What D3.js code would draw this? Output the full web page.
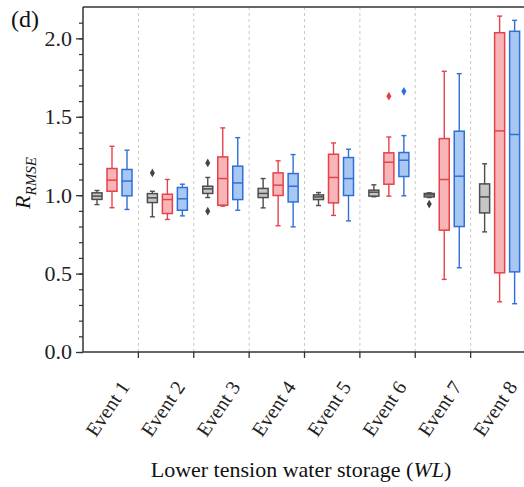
<!DOCTYPE html>
<html><head><meta charset="utf-8"><script src="https://cdn.jsdelivr.net/npm/d3@7"></script></head>
<body style="margin:0">
<div id="c"></div>
<script>
const events = ["Event 1", "Event 2", "Event 3", "Event 4", "Event 5", "Event 6", "Event 7", "Event 8"];
const series = ["gray", "red", "blue"];

// [lower whisker, q1, median, q3, upper whisker]
const grayStats = [
  [0.94, 0.973, 0.994, 1.015, 1.03],
  [0.862, 0.953, 0.983, 1.01, 1.025],
  [0.985, 1.011, 1.04, 1.057, 1.113],
  [0.919, 0.985, 1.011, 1.043, 1.106],
  [0.934, 0.972, 0.989, 1.002, 1.017],
  [0.99, 0.994, 1.019, 1.032, 1.066],
  [0.985, 0.989, 1.002, 1.011, 1.015],
  [0.766, 0.887, 0.989, 1.072, 1.2]
];
const redStats = [
  [0.92, 1.025, 1.096, 1.17, 1.312],
  [0.845, 0.883, 0.972, 1.006, 1.10],
  [0.93, 0.936, 1.106, 1.244, 1.429],
  [0.805, 0.998, 1.064, 1.142, 1.219],
  [0.871, 0.951, 1.113, 1.261, 1.333],
  [0.994, 1.07, 1.21, 1.27, 1.371],
  [0.463, 0.777, 1.10, 1.361, 1.79],
  [0.32, 0.505, 1.41, 2.036, 2.142]
];
const blueStats = [
  [0.909, 0.996, 1.09, 1.164, 1.287],
  [0.868, 0.904, 0.977, 1.049, 1.07],
  [0.904, 0.972, 1.078, 1.185, 1.367],
  [0.798, 0.957, 1.057, 1.138, 1.259],
  [0.836, 0.998, 1.106, 1.24, 1.293],
  [0.996, 1.119, 1.223, 1.272, 1.38],
  [0.537, 0.80, 1.121, 1.408, 1.775],
  [0.308, 0.511, 1.387, 2.045, 2.115]
];
const grayOutliers = [[], [1.142], [1.206, 0.898], [], [], [], [0.943], []];
const redOutliers = [[], [], [], [], [], [1.631], [], []];
const blueOutliers = [[], [], [], [], [], [1.662], [], []];

const yMajor = [0, 0.5, 1.0, 1.5, 2.0];
const yMinor = d3.range(0, 22).map(i => i / 10);

const styles = {
  gray: { stroke: "#4d4d4d", fill: "#c6c6c6", dot: "#444444" },
  red: { stroke: "#e5424b", fill: "#f8b5b7", dot: "#e83a45" },
  blue: { stroke: "#2f6fd8", fill: "#a8c7f2", dot: "#2a6ee3" }
};

const width = 524, height = 487;
const margin = { left: 83, top: 7, bottom: 352 };

const svg = d3.select("#c").append("svg")
  .attr("width", width)
  .attr("height", height);

const x = d3.scaleBand().domain(events).range([margin.left, margin.left + 443]).padding(0);
const xs = d3.scalePoint().domain(series).range([14, 44]);
const y = d3.scaleLinear().domain([0, 2.2]).range([margin.bottom, margin.top]);

// dashed separators
svg.append("g")
  .selectAll("line")
  .data(events.slice(0, 7))
  .join("line")
  .attr("x1", d => x(d) + x.bandwidth())
  .attr("x2", d => x(d) + x.bandwidth())
  .attr("y1", margin.top)
  .attr("y2", margin.bottom)
  .attr("stroke", "#c8c8c8")
  .attr("stroke-width", 1)
  .attr("stroke-dasharray", "3,3");

// boxes
const statsBy = { gray: grayStats, red: redStats, blue: blueStats };
const outBy = { gray: grayOutliers, red: redOutliers, blue: blueOutliers };
const boxW = 10, capW = 5;

series.forEach(s => {
  const st = styles[s];
  const g = svg.append("g");
  const rows = events.map((e, i) => ({ e, v: statsBy[s][i], out: outBy[s][i] }));
  const grp = g.selectAll("g").data(rows).join("g")
    .attr("transform", d => `translate(${x(d.e) + xs(s)},0)`);

  grp.append("line")
    .attr("x1", 0).attr("x2", 0)
    .attr("y1", d => y(d.v[0])).attr("y2", d => y(d.v[4]))
    .attr("stroke", st.stroke).attr("stroke-width", 1.4);
  grp.append("line")
    .attr("x1", -capW / 2).attr("x2", capW / 2)
    .attr("y1", d => y(d.v[0])).attr("y2", d => y(d.v[0]))
    .attr("stroke", st.stroke).attr("stroke-width", 1.4);
  grp.append("line")
    .attr("x1", -capW / 2).attr("x2", capW / 2)
    .attr("y1", d => y(d.v[4])).attr("y2", d => y(d.v[4]))
    .attr("stroke", st.stroke).attr("stroke-width", 1.4);
  grp.append("rect")
    .attr("x", -boxW / 2).attr("width", boxW)
    .attr("y", d => y(d.v[3]))
    .attr("height", d => y(d.v[1]) - y(d.v[3]))
    .attr("fill", st.fill)
    .attr("stroke", st.stroke).attr("stroke-width", 1.5);
  grp.append("line")
    .attr("x1", -boxW / 2).attr("x2", boxW / 2)
    .attr("y1", d => y(d.v[2])).attr("y2", d => y(d.v[2]))
    .attr("stroke", st.stroke).attr("stroke-width", 1.5);
  grp.selectAll("path").data(d => d.out).join("path")
    .attr("d", d3.symbol(d3.symbolDiamond, 22))
    .attr("transform", d => `translate(0,${y(d)})`)
    .attr("fill", st.dot);
});

// y axis ticks (minor + major)
const yAxisMinor = d3.axisLeft(y).tickValues(yMinor).tickSize(4).tickFormat("");
svg.append("g").attr("transform", `translate(${margin.left},0)`).call(yAxisMinor)
  .call(g => g.select(".domain").remove())
  .call(g => g.selectAll("line").attr("stroke", "#333").attr("stroke-width", 1.2));

const yAxis = d3.axisLeft(y).tickValues(yMajor).tickSize(7).tickFormat("");
svg.append("g").attr("transform", `translate(${margin.left},0)`).call(yAxis)
  .call(g => g.select(".domain").remove())
  .call(g => g.selectAll("line").attr("stroke", "#333").attr("stroke-width", 1.3));

svg.selectAll("text.ylab").data(yMajor).join("text")
  .attr("class", "ylab")
  .attr("x", margin.left - 11)
  .attr("y", d => y(d))
  .attr("dy", "0.34em")
  .attr("text-anchor", "end")
  .attr("font-size", 22)
  .attr("fill", "#222")
  .style("font-family", `"Liberation Serif"`)
  .text(d => d3.format(".1f")(d));

// x axis ticks at group boundaries
const xAxis = d3.axisBottom(x).tickSize(6).tickFormat("");
const xg = svg.append("g").attr("transform", `translate(0,${margin.bottom})`).call(xAxis);
xg.select(".domain").remove();
xg.selectAll(".tick").attr("transform", d => `translate(${x(d) + x.bandwidth()},0)`);
xg.selectAll("line").attr("stroke", "#333").attr("stroke-width", 1.3);

svg.selectAll("text.xlab").data(events).join("text")
  .attr("class", "xlab")
  .attr("transform", d => `translate(${x(d) + x.bandwidth() - 8},${margin.bottom + 35}) rotate(-56)`)
  .attr("text-anchor", "end")
  .attr("font-size", 20)
  .attr("fill", "#222")
  .style("font-family", `"Liberation Serif"`)
  .text(d => d);

// frame lines
svg.append("line")
  .attr("x1", margin.left).attr("x2", width)
  .attr("y1", margin.top).attr("y2", margin.top)
  .attr("stroke", "#333").attr("stroke-width", 1.5);
svg.append("line")
  .attr("x1", margin.left).attr("x2", width)
  .attr("y1", margin.bottom).attr("y2", margin.bottom)
  .attr("stroke", "#333").attr("stroke-width", 1.5);
svg.append("line")
  .attr("x1", margin.left).attr("x2", margin.left)
  .attr("y1", margin.top).attr("y2", margin.bottom)
  .attr("stroke", "#333").attr("stroke-width", 1.5);

// labels
svg.append("text")
  .attr("x", 11).attr("y", 27)
  .attr("font-size", 24).attr("fill", "#111")
  .style("font-family", `"Liberation Serif"`)
  .text("(d)");

const yl = svg.append("text")
  .attr("transform", "translate(30,183) rotate(-90)")
  .attr("text-anchor", "middle")
  .attr("font-size", 22).attr("fill", "#111")
  .style("font-family", `"Liberation Serif"`)
  .attr("font-style", "italic");
yl.append("tspan").text("R");
yl.append("tspan").attr("font-size", 15).attr("dy", 6).text("RMSE");

const xl = svg.append("text")
  .attr("x", 301).attr("y", 477)
  .attr("text-anchor", "middle")
  .attr("font-size", 22).attr("fill", "#111")
  .style("font-family", `"Liberation Serif"`);
xl.append("tspan").text("Lower tension water storage (");
xl.append("tspan").attr("font-style", "italic").text("WL");
xl.append("tspan").text(")");
</script>
</body></html>
